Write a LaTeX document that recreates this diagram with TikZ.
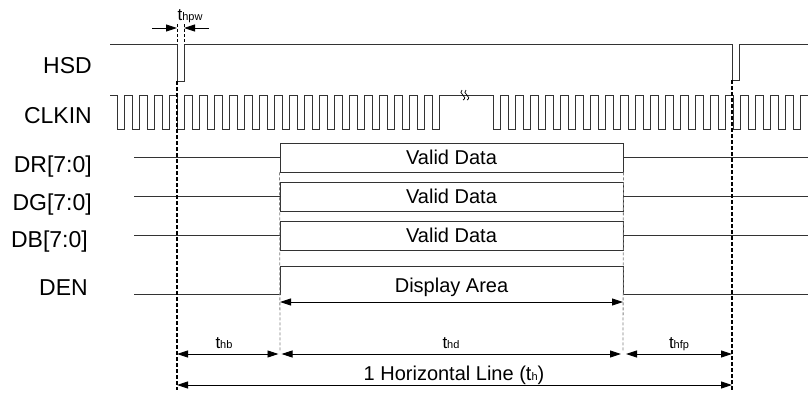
\documentclass[tikz,border=0pt]{standalone}
\usepackage{fontspec}
\setmainfont{Liberation Sans}
\usetikzlibrary{arrows.meta}
\newcommand{\tlab}[1]{{\fontsize{17}{17}\selectfont t}{\fontsize{11}{11}\selectfont #1}}

\begin{document}
\begin{tikzpicture}[x=1pt,y=-1pt,
  sig/.style={line width=0.9pt,draw=black!80},
  edgeline/.style={line width=1.2pt,dash pattern=on 4pt off 2pt},
  pwline/.style={line width=0.8pt,dash pattern=on 3pt off 2pt},
  dataedge/.style={line width=0.8pt,draw=black!50,dash pattern=on 3pt off 2pt},
  dim/.style={line width=0.9pt,{Triangle[length=11pt,width=7pt]}-{Triangle[length=11pt,width=7pt]}},
  lab/.style={anchor=base east,inner sep=0pt,font=\fontsize{23}{23}\selectfont},
  databox/.style={sig,fill=white,minimum width=343pt,minimum height=29pt,inner sep=0pt,font=\fontsize{20}{20}\selectfont},
  tnote/.style={anchor=base,inner sep=0pt,font=\fontsize{20}{20}\selectfont}]
\useasboundingbox (0,0) rectangle (808,392);

% signal names
\node[lab] (hsd) at (92,73) {HSD};
\node[lab] (clkin) at (92,123) {CLKIN};
\node[lab] (dr) at (92,172) {DR[7:0]};
\node[lab] (dg) at (92,210) {DG[7:0]};
\node[lab] (db) at (88,247) {DB[7:0]};
\node[lab] (den) at (88,295) {DEN};

% HSD
\draw[sig] (110,44) -- (177,44) -- (177,81) -- (184,81) -- (184,44) -- (732,44)
  -- (732,80) -- (739,80) -- (739,44) -- (808,44);

% CLKIN
\draw[sig] (110,95) \foreach \k in {0,...,21} {
    -- ({117+15*\k},95) -- ({117+15*\k},129) -- ({124.5+15*\k},129) -- ({124.5+15*\k},95) }
  -- (493,95) \foreach \k in {0,...,20} {
    -- ({493+15*\k},95) -- ({493+15*\k},129) -- ({500.5+15*\k},129) -- ({500.5+15*\k},95) }
  -- (808,95);
\foreach \dx in {0,4}
  \draw[line width=0.7pt] ({462+\dx},90) .. controls ({457+\dx},93) and ({469+\dx},97) .. ({463+\dx},100);

% data buses
\node[databox,draw] (vdr) at (451.5,157.5) {Valid Data};
\node[databox,draw] (vdg) at (451.5,196.5) {Valid Data};
\node[databox,draw] (vdb) at (451.5,235.5) {Valid Data};
\draw[sig] (134,157.5) -- (vdr.west);
\draw[sig] (vdr.east) -- (808,157.5);
\draw[sig] (134,196.5) -- (vdg.west);
\draw[sig] (vdg.east) -- (808,196.5);
\draw[sig] (134,235.5) -- (vdb.west);
\draw[sig] (vdb.east) -- (808,235.5);

% DEN
\draw[sig] (134,294) -- (280,294) -- (280,266) -- (623,266) -- (623,294) -- (808,294);
\node[tnote] (disp) at (451.5,292) {Display Area};

% edges
\draw[dataedge] (vdr.south west) -- (280,351);
\draw[dataedge] (vdr.south east) -- (623,351);
\draw[edgeline] (177,81) -- (177,390);
\draw[edgeline] (732,80) -- (732,390);
\draw[pwline] (177,24) -- (177,44);
\draw[pwline] (184,24) -- (184,44);

% timings
\coordinate (pwLo) at (152,28);
\coordinate (pwL) at (177,28);
\coordinate (pwR) at (184,28);
\coordinate (pwRo) at (209,28);
\draw[line width=0.9pt,-{Triangle[length=11pt,width=7pt]}] (pwLo) -- (pwL);
\draw[line width=0.9pt,-{Triangle[length=11pt,width=7pt]}] (pwRo) -- (pwR);
\node[anchor=base,inner sep=0pt] (thpw) at (190,20) {\tlab{hpw}};

\coordinate (daL) at (280,302);
\coordinate (daR) at (623,302);
\draw[dim] (daL) -- (daR);

\coordinate (hbL) at (177,354);
\coordinate (hbR) at (278.5,354);
\coordinate (hdL) at (281.5,354);
\coordinate (hdR) at (621,354);
\coordinate (hfL) at (626,354);
\coordinate (hfR) at (732,354);
\draw[dim] (hbL) -- (hbR);
\draw[dim] (hdL) -- (hdR);
\draw[dim] (hfL) -- (hfR);
\node[anchor=base,inner sep=0pt] (thb) at (224,348) {\tlab{hb}};
\node[anchor=base,inner sep=0pt] (thd) at (451,348) {\tlab{hd}};
\node[anchor=base,inner sep=0pt] (thfp) at (679,348) {\tlab{hfp}};

\coordinate (hL) at (177,385);
\coordinate (hR) at (732,385);
\draw[dim] (hL) -- (hR);
\node[tnote] (line) at (454,380) {1 Horizontal Line (t{\fontsize{11}{11}\selectfont h})};
\end{tikzpicture}
\end{document}
